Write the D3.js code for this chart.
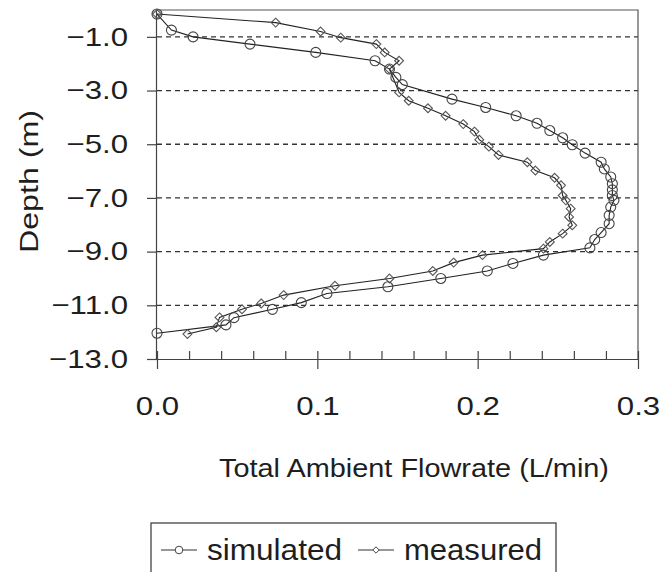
<!DOCTYPE html>
<html>
<head>
<meta charset="utf-8">
<script src="https://cdn.jsdelivr.net/npm/d3@7"></script>
<style>
  body { margin: 0; background: #fff; }
  text { font-family: "Liberation Sans", Arial, sans-serif; fill: #1e1e1e; }
</style>
</head>
<body>
<svg id="chart" width="661" height="572"></svg>
<script>
// simulated (circles)
let simFlow = [0, 0.009, 0.0225, 0.058, 0.099, 0.136, 0.145, 0.149, 0.153, 0.184, 0.205, 0.224, 0.237, 0.245, 0.253, 0.259, 0.267, 0.277, 0.279, 0.283, 0.284, 0.284, 0.284, 0.285, 0.283, 0.282, 0.282, 0.277, 0.273, 0.270, 0.241, 0.222, 0.206, 0.177, 0.144, 0.106, 0.090, 0.072, 0.048, 0.043, 0]
let simDepth = [-0.15, -0.75, -1.0, -1.27, -1.58, -1.89, -2.2, -2.51, -2.78, -3.32, -3.63, -3.94, -4.22, -4.49, -4.76, -5.02, -5.33, -5.67, -5.92, -6.22, -6.47, -6.7, -6.91, -7.09, -7.34, -7.65, -7.96, -8.29, -8.55, -8.86, -9.13, -9.44, -9.72, -10.0, -10.31, -10.56, -10.9, -11.15, -11.46, -11.73, -12.04]

// measured (diamonds)
let measFlow = [0, 0.074, 0.102, 0.1146, 0.1368, 0.142, 0.151, 0.145, 0.151, 0.157, 0.169, 0.180, 0.191, 0.198, 0.201, 0.207, 0.213, 0.231, 0.236, 0.248, 0.252, 0.253, 0.255, 0.258, 0.257, 0.259, 0.253, 0.245, 0.241, 0.203, 0.185, 0.172, 0.145, 0.111, 0.079, 0.065, 0.053, 0.039, 0.037, 0.019]
let measDepth = [-0.15, -0.47, -0.8, -1.03, -1.27, -1.58, -1.89, -2.2, -3.07, -3.38, -3.66, -3.94, -4.25, -4.53, -4.83, -5.09, -5.4, -5.67, -5.98, -6.25, -6.53, -6.91, -7.09, -7.4, -7.71, -8.02, -8.33, -8.64, -8.89, -9.13, -9.41, -9.72, -10.0, -10.27, -10.62, -10.93, -11.15, -11.45, -11.82, -12.07]

let yTicks = [-1, -3, -5, -7, -9, -11, -13]
let xTicks = [0, 0.1, 0.2, 0.3]
let seriesNames = ["simulated", "measured"]

let svg = d3.select("#chart")
let plotLeft = 157, plotRight = 638, plotTop = 10, plotBottom = 359

let xScale = d3.scaleLinear().domain([0, 0.3]).range([plotLeft, plotRight])
let yScale = d3.scaleLinear().domain([0, -13]).range([plotTop, plotBottom])

// the original lettering is wider than Arial, so stretch it
function widen(sel, k) {
  sel.each(function () {
    let w = this.getComputedTextLength()
    d3.select(this).attr("textLength", w * k).attr("lengthAdjust", "spacingAndGlyphs")
  })
}

// dashed grid
svg.append("g")
  .selectAll("line")
  .data(yTicks.filter(d => d > -13))
  .enter()
  .append("line")
  .attr("x1", plotLeft)
  .attr("x2", plotRight)
  .attr("y1", d => yScale(d))
  .attr("y2", d => yScale(d))
  .attr("stroke", "#333")
  .attr("stroke-width", 1.3)
  .attr("stroke-dasharray", "5,4")

// frame top/right
svg.append("path")
  .attr("d", `M${plotLeft},${plotTop}H${plotRight}V${plotBottom}`)
  .attr("fill", "none")
  .attr("stroke", "#555")
  .attr("stroke-width", 1.2)

let yAxis = d3.axisLeft(yScale)
  .tickValues(yTicks)
  .tickSize(10)
  .tickPadding(19)
  .tickFormat(d3.format(".1f"))
let yAxisGroup = svg.append("g")
  .attr("transform", `translate(${plotLeft},0)`)
  .call(yAxis)
yAxisGroup.select(".domain").attr("d", `M-0.5,${plotTop}V${plotBottom}`)

// minor x ticks pointing in
let minor = d3.range(0, 0.301, 0.02)
let xMinor = d3.axisBottom(xScale).tickValues(minor).tickSize(-8).tickFormat("")
svg.append("g")
  .attr("transform", `translate(0,${plotBottom})`)
  .call(xMinor)
  .select(".domain").remove()

let xAxis = d3.axisBottom(xScale)
  .tickValues(xTicks)
  .tickSize(10)
  .tickPadding(28)
  .tickFormat(d3.format(".1f"))
let xAxisGroup = svg.append("g")
  .attr("transform", `translate(0,${plotBottom})`)
  .call(xAxis)
xAxisGroup.select(".domain").attr("d", `M${plotLeft},0.5H${plotRight}`)

svg.selectAll(".tick line").attr("stroke", "#444").attr("stroke-width", 1.2)
svg.selectAll(".domain").attr("stroke", "#444").attr("stroke-width", 1.2)
svg.selectAll(".tick text").style("font-size", "26px").attr("fill", "#1e1e1e")
widen(svg.selectAll(".tick text"), 1.2)

// axis titles
svg.append("text")
  .attr("x", 414)
  .attr("y", 477)
  .attr("text-anchor", "middle")
  .style("font-size", "26px")
  .attr("textLength", 390)
  .attr("lengthAdjust", "spacingAndGlyphs")
  .text("Total Ambient Flowrate (L/min)")

svg.append("text")
  .attr("transform", `translate(38,${(plotTop + plotBottom) / 2 - 3}) rotate(-90)`)
  .attr("text-anchor", "middle")
  .style("font-size", "26px")
  .attr("textLength", 143)
  .attr("lengthAdjust", "spacingAndGlyphs")
  .text("Depth (m)")

let sim = simFlow.map((v, i) => ({ x: v, y: simDepth[i] }))
let meas = measFlow.map((v, i) => ({ x: v, y: measDepth[i] }))

let line = d3.line().x(d => xScale(d.x)).y(d => yScale(d.y))
let diamond = d3.symbol().type(d3.symbolDiamond2).size(50)

let plot = svg.append("g")

plot.append("path").datum(meas)
  .attr("d", line).attr("fill", "none").attr("stroke", "#222").attr("stroke-width", 1.1)
plot.append("path").datum(sim)
  .attr("d", line).attr("fill", "none").attr("stroke", "#222").attr("stroke-width", 1.1)

plot.selectAll("path.dm")
  .data(meas)
  .enter()
  .append("path")
  .attr("class", "dm")
  .attr("d", diamond)
  .attr("transform", d => `translate(${xScale(d.x)},${yScale(d.y)})`)
  .attr("fill", "none")
  .attr("stroke", "#555")
  .attr("stroke-width", 1.1)

plot.selectAll("circle")
  .data(sim)
  .enter()
  .append("circle")
  .attr("cx", d => xScale(d.x))
  .attr("cy", d => yScale(d.y))
  .attr("r", 5)
  .attr("fill", "none")
  .attr("stroke", "#444")
  .attr("stroke-width", 1.1)

// legend
let legend = svg.append("g").attr("transform", "translate(151,523)")
legend.append("rect")
  .attr("width", 405).attr("height", 60)
  .attr("fill", "#fff").attr("stroke", "#444").attr("stroke-width", 1.3)

let legendX = [10, 207]
let legendW = [135, 138]
let items = legend.selectAll("g.item")
  .data(seriesNames)
  .enter()
  .append("g")
  .attr("class", "item")
  .attr("transform", (d, i) => `translate(${legendX[i]},27)`)

items.append("line")
  .attr("x1", 0).attr("x2", 36).attr("y1", 0).attr("y2", 0)
  .attr("stroke", "#333").attr("stroke-width", 1.1)
items.each(function (d, i) {
  let g = d3.select(this)
  if (i == 0) {
    g.append("circle").attr("cx", 18).attr("cy", 0).attr("r", 3.8)
      .attr("fill", "#fff").attr("stroke", "#444")
  } else {
    g.append("path").attr("d", d3.symbol().type(d3.symbolDiamond2).size(26))
      .attr("transform", "translate(18,0)")
      .attr("fill", "#fff").attr("stroke", "#444")
  }
})
items.append("text")
  .attr("x", 46).attr("y", 10)
  .style("font-size", "29px")
  .attr("textLength", (d, i) => legendW[i])
  .attr("lengthAdjust", "spacingAndGlyphs")
  .text(d => d)
</script>
</body>
</html>
